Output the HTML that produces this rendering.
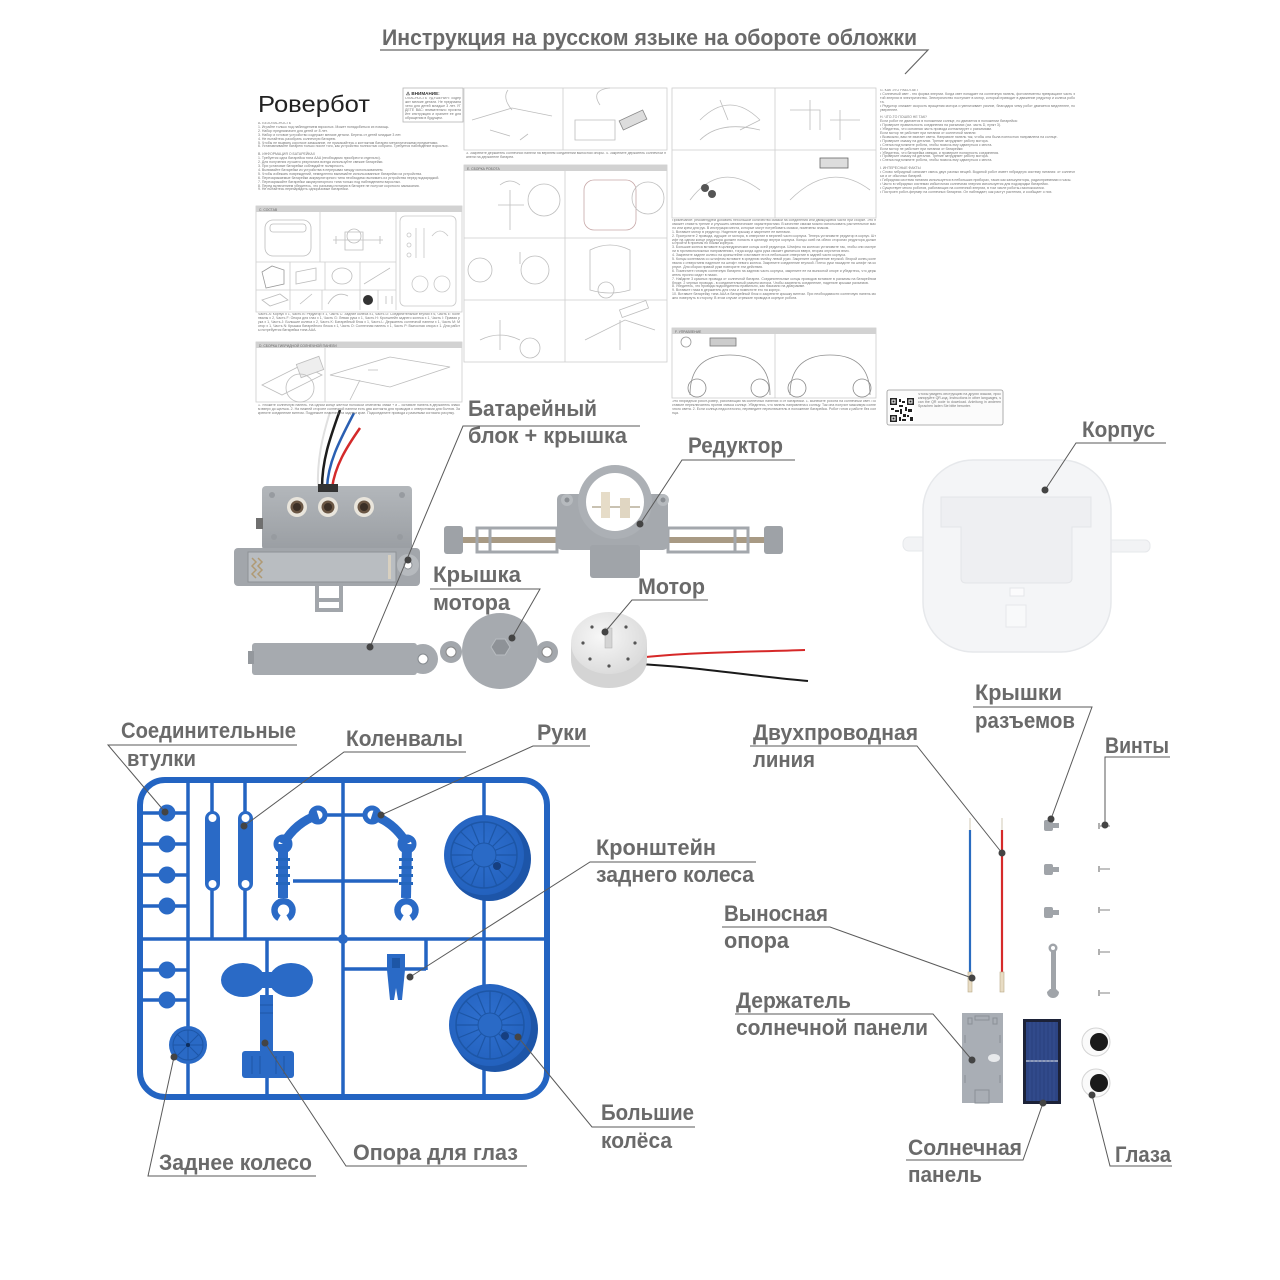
<!DOCTYPE html>
<html><head><meta charset="utf-8">
<style>
html,body{margin:0;padding:0;background:#fff;}
#w{position:relative;width:1280px;height:1280px;overflow:hidden;background:#fff;}
svg{position:absolute;left:0;top:0;}
.t{position:absolute;font-family:"Liberation Sans","Noto Sans CJK SC",sans-serif;font-size:3.5px;line-height:3.9px;color:#777;overflow:hidden;text-align:justify;word-break:break-all;}
.lb{font-family:"Liberation Sans","Noto Sans CJK SC",sans-serif;font-weight:700;font-size:22px;fill:#6a6a6a;}
</style></head><body><div id="w">
<svg width="1280" height="1280" viewBox="0 0 1280 1280" xmlns="http://www.w3.org/2000/svg">
<defs>
<linearGradient id="gbox" x1="0" y1="0" x2="0" y2="1"><stop offset="0" stop-color="#b3b7bb"/><stop offset="1" stop-color="#9a9ea3"/></linearGradient>
<radialGradient id="gmot" cx="0.4" cy="0.4" r="0.7"><stop offset="0" stop-color="#f7f7f7"/><stop offset="1" stop-color="#d8d8d8"/></radialGradient>
<radialGradient id="gwh" cx="0.45" cy="0.45" r="0.6"><stop offset="0" stop-color="#2f70cf"/><stop offset="1" stop-color="#2260bc"/></radialGradient>
</defs>

<text class="lb" x="382" y="45" font-size="23" textLength="535" lengthAdjust="spacingAndGlyphs">Инструкция на русском языке на обороте обложки</text>
<path d="M380 50 H928 L905 74" stroke="#666" stroke-width="1.2" fill="none"/>

<g fill="none" stroke="#cdcdcd" stroke-width="0.8">
<rect x="403" y="88" width="60" height="34" stroke="#b5b5b5"/>
<rect x="256" y="206" width="206" height="106"/>
<line x1="320" y1="212" x2="320" y2="262"/><line x1="396" y1="212" x2="396" y2="310"/>
<line x1="256" y1="262" x2="396" y2="262"/><line x1="256" y1="290" x2="396" y2="290"/>
<line x1="290" y1="262" x2="290" y2="310"/><line x1="325" y1="262" x2="325" y2="290"/><line x1="360" y1="262" x2="360" y2="310"/>
<line x1="322" y1="290" x2="322" y2="310"/><line x1="378" y1="290" x2="378" y2="310"/>
<rect x="256" y="342" width="206" height="60"/><line x1="325" y1="348" x2="325" y2="402"/>
<rect x="464" y="88" width="203" height="62"/><line x1="563" y1="88" x2="563" y2="150"/>
<rect x="464" y="165" width="203" height="197"/><line x1="565" y1="171" x2="565" y2="362"/>
<line x1="464" y1="238" x2="667" y2="238"/><line x1="464" y1="300" x2="667" y2="300"/>
<rect x="672" y="88" width="204" height="130"/><line x1="775" y1="88" x2="775" y2="218"/><line x1="672" y1="150" x2="876" y2="150"/>
<rect x="672" y="328" width="204" height="70"/><line x1="775" y1="334" x2="775" y2="398"/>
</g>
<g fill="#d2d2d2">
<rect x="256" y="206" width="206" height="6"/>
<rect x="256" y="342" width="206" height="6"/>
<rect x="464" y="165" width="203" height="6"/>
<rect x="672" y="328" width="204" height="6"/>
</g>
<g font-family="Liberation Sans, sans-serif" font-size="3.4" fill="#666">
<text x="259" y="211">C. СОСТАВ</text>
<text x="259" y="347">D. СБОРКА ГИБРИДНОЙ СОЛНЕЧНОЙ ПАНЕЛИ</text>
<text x="467" y="170">E. СБОРКА РОБОТА</text>
<text x="675" y="333">F. УПРАВЛЕНИЕ</text>
</g>
<text x="258" y="112" font-family="Liberation Sans, sans-serif" font-size="23" fill="#222" textLength="112" lengthAdjust="spacingAndGlyphs">Ровербот</text>
<text x="406" y="95" font-family="Liberation Sans, sans-serif" font-size="4.6" font-weight="700" fill="#333">⚠ ВНИМАНИЕ:</text>

<g fill="none" stroke="#bdbdbd" stroke-width="0.8">
<rect x="265" y="220" width="46" height="36" rx="8"/><rect x="270" y="224" width="36" height="8" rx="3"/>
<path d="M333 240 h50 M345 232 h18 v18 h-18z M336 236 v8 M380 236 v8"/><circle cx="354" cy="236" r="7"/>
<g stroke="#c8c8c8"><rect x="400" y="216" width="56" height="90" rx="5"/>
<circle cx="420" cy="284" r="8"/><circle cx="442" cy="284" r="8"/><circle cx="409" cy="235" r="2"/><circle cx="409" cy="245" r="2"/><circle cx="409" cy="255" r="2"/><path d="M416 228 v30 M424 228 v30 M432 236 q8 -10 16 0"/></g>
<path d="M262 272 l10 -6 l12 4 v14 l-18 4 z" stroke="#9a9a9a"/><path d="M296 272 l20 -4 v12 l-20 4z"/><ellipse cx="342" cy="276" rx="10" ry="8"/><path d="M364 284 l26 -16"/>
<path d="M262 300 l18 -6 l8 6 l-18 6z"/><path d="M300 304 l12 -10"/><path d="M328 304 q8 -14 20 -8"/><circle cx="368" cy="300" r="5" fill="#333" stroke="none"/><path d="M386 296 v8 M392 296 v8"/>
<path d="M262 385 l40 -20 l20 10 l-40 20z"/><rect x="298" y="360" width="24" height="14" transform="rotate(-20 310 367)" fill="#eee"/><circle cx="300" cy="388" r="14"/>
<path d="M330 375 l60 -18 l60 10 l-60 20z M360 380 l-10 20 M368 370 h10"/>
<path d="M472 120 l40 -12 l40 8 M490 130 l20 6 M512 110 q-10 -12 -4 -20"/><path d="M520 140 l8 -6"/>
<path d="M575 120 h40 v20 h-40z M600 105 q-10 -15 10 -17"/><rect x="620" y="115" width="26" height="10" transform="rotate(-25 633 120)" fill="#ddd" stroke="#888"/>
<path d="M500 185 q10 -8 20 0 M510 190 v40 M498 205 h26"/><circle cx="544" cy="200" r="16"/>
<rect x="584" y="180" width="52" height="50" rx="10" stroke="#c7a8a8"/><circle cx="648" cy="198" r="16"/>
<circle cx="480" cy="270" r="12"/><circle cx="535" cy="270" r="14"/><path d="M520 252 v12"/>
<path d="M590 250 q20 -10 40 0 v40 q-20 6 -40 0z"/><circle cx="606" cy="290" r="8"/>
<path d="M480 340 q20 -10 40 0 M500 320 v30"/><circle cx="530" cy="348" r="10"/>
<path d="M585 340 l40 -20 l30 10 M620 320 v30"/><rect x="620" y="305" width="28" height="8" transform="rotate(-20 634 309)"/>
<path d="M700 120 q30 -30 60 0 M720 100 l8 20 M740 130 l20 -10"/><path d="M700 140 q20 -20 60 -10"/>
<path d="M790 110 h30 v20 M810 100 v30 M830 120 h30 M840 140 v-30"/>
<path d="M690 200 q30 -40 70 -10"/><circle cx="705" cy="188" r="4" fill="#555" stroke="none"/><circle cx="712" cy="194" r="4" fill="#555" stroke="none"/>
<path d="M790 200 q40 -40 80 -10"/><rect x="820" y="158" width="28" height="10" fill="#ddd" stroke="#666"/>
<path d="M690 395 q0 -40 40 -40 q40 0 40 40" stroke="#8f8f8f"/><circle cx="697" cy="388" r="9" stroke="#888"/><circle cx="760" cy="388" r="9" stroke="#888"/><circle cx="686" cy="342" r="5" stroke="#999"/>
<path d="M790 395 q0 -40 40 -40 q40 0 40 40" stroke="#8f8f8f"/><circle cx="797" cy="388" r="9" stroke="#888"/><circle cx="862" cy="388" r="9" stroke="#888"/><rect x="710" y="338" width="26" height="8" fill="#ccc" stroke="#777"/>
</g>

<rect x="887" y="390" width="116" height="35" rx="2" fill="#fbfbfb" stroke="#999" stroke-width="0.8"/>
<g fill="#222">
<rect x="890" y="398" width="24" height="24" fill="#fff"/>
<rect x="890" y="398" width="7" height="7"/><rect x="907" y="398" width="7" height="7"/><rect x="890" y="415" width="7" height="7"/>
<rect x="899" y="399" width="2" height="3"/><rect x="902" y="401" width="3" height="2"/><rect x="899" y="405" width="4" height="2"/><rect x="905" y="407" width="2" height="4"/>
<rect x="891" y="408" width="3" height="2"/><rect x="895" y="410" width="4" height="2"/><rect x="900" y="409" width="2" height="5"/><rect x="908" y="409" width="4" height="3"/>
<rect x="903" y="414" width="3" height="3"/><rect x="899" y="417" width="2" height="4"/><rect x="907" y="415" width="2" height="2"/><rect x="910" y="417" width="3" height="4"/><rect x="902" y="419" width="4" height="2"/>
</g>
<g fill="#fff"><rect x="891.5" y="399.5" width="4" height="4"/><rect x="908.5" y="399.5" width="4" height="4"/><rect x="891.5" y="416.5" width="4" height="4"/></g>
<g fill="#222"><rect x="892.5" y="400.5" width="2" height="2"/><rect x="909.5" y="400.5" width="2" height="2"/><rect x="892.5" y="417.5" width="2" height="2"/></g>

<!-- BATTERY BLOCK -->
<path d="M318 488 C317 460 322 438 330 412" stroke="#e0e0e0" stroke-width="2" fill="none"/>
<path d="M322 488 C322 460 330 438 340 410" stroke="#1d1d1d" stroke-width="2.5" fill="none"/>
<path d="M327 488 C328 462 340 440 354 413" stroke="#2a5fb2" stroke-width="2.5" fill="none"/>
<path d="M332 488 C335 466 346 448 360 428" stroke="#d42a2a" stroke-width="2.5" fill="none"/>
<rect x="262" y="486" width="150" height="64" rx="4" fill="url(#gbox)"/>
<rect x="318" y="484" width="20" height="8" fill="#333"/>
<g fill="#979ba0"><circle cx="272" cy="495" r="3"/><circle cx="402" cy="495" r="3"/><circle cx="274" cy="537" r="3"/><circle cx="400" cy="537" r="3"/></g>
<g><circle cx="297" cy="507" r="10" fill="#e9e5dc"/><circle cx="297" cy="507" r="6.5" fill="#6a5644"/><circle cx="297" cy="507" r="4" fill="#3b2f26"/>
<circle cx="328" cy="507" r="10" fill="#e9e5dc"/><circle cx="328" cy="507" r="6.5" fill="#6a5644"/><circle cx="328" cy="507" r="4" fill="#3b2f26"/>
<circle cx="364" cy="507" r="10" fill="#e9e5dc"/><circle cx="364" cy="507" r="6.5" fill="#6a5644"/><circle cx="364" cy="507" r="4" fill="#3b2f26"/></g>
<rect x="256" y="518" width="7" height="11" fill="#6f6f6f"/>
<rect x="234" y="548" width="186" height="38" rx="4" fill="#a2a6ab"/>
<rect x="248" y="552" width="148" height="30" fill="#b9bdc1" stroke="#8d9196" stroke-width="1"/>
<path d="M252 558 l4 4 l-4 4 l4 4 l-4 4 l4 4 M258 558 l4 4 l-4 4 l4 4 l-4 4 l4 4" stroke="#b09a74" stroke-width="1.5" fill="none"/>
<rect x="388" y="555" width="3" height="24" fill="#d8d0c0"/>
<circle cx="408" cy="565" r="11" fill="#b6babe"/><circle cx="408" cy="565" r="4" fill="#fff" stroke="#8a8e93"/>
<path d="M317 586 v24 h24 v-24 M317 600 h24" stroke="#a2a6ab" stroke-width="4" fill="none"/>

<rect x="252" y="643" width="165" height="32" rx="3" fill="#a6aaaf"/>
<circle cx="423" cy="659" r="15" fill="#a6aaaf"/>
<circle cx="423" cy="659" r="5" fill="#fff" stroke="#858a8f"/>
<rect x="248" y="651" width="6" height="13" fill="#94989d"/>

<!-- REDUCER -->
<rect x="455" y="537" width="320" height="6" fill="#a89a84"/>
<rect x="477" y="528" width="80" height="24" fill="none" stroke="#a3a7ac" stroke-width="3"/>
<rect x="668" y="528" width="80" height="24" fill="none" stroke="#a3a7ac" stroke-width="3"/>
<line x1="490" y1="528" x2="490" y2="552" stroke="#a3a7ac" stroke-width="3"/><line x1="735" y1="528" x2="735" y2="552" stroke="#a3a7ac" stroke-width="3"/>
<rect x="444" y="526" width="19" height="28" rx="3" fill="#9ea2a7"/>
<rect x="764" y="526" width="19" height="28" rx="3" fill="#9ea2a7"/>
<rect x="557" y="494" width="111" height="56" rx="5" fill="#a5a9ae"/>
<rect x="590" y="545" width="50" height="33" rx="3" fill="#a0a4a9"/>
<circle cx="567" cy="500" r="6" fill="#b6babe"/><circle cx="663" cy="500" r="6" fill="#b6babe"/>
<circle cx="567" cy="500" r="2.5" fill="#8a8e93"/><circle cx="663" cy="500" r="2.5" fill="#8a8e93"/>
<circle cx="615" cy="502" r="37" fill="#acb0b5"/>
<circle cx="615" cy="502" r="29" fill="#fff"/>
<line x1="592" y1="507" x2="640" y2="507" stroke="#c9c2b2" stroke-width="2"/>
<rect x="601" y="492" width="9" height="26" fill="#e6dcc8"/>
<rect x="620" y="498" width="10" height="20" fill="#e0d6c2"/>

<!-- motor cover -->
<circle cx="451" cy="652" r="11" fill="#a3a7ac"/><circle cx="547" cy="652" r="11" fill="#a3a7ac"/>
<circle cx="451" cy="652" r="5" fill="#fff" stroke="#888"/><circle cx="547" cy="652" r="5" fill="#fff" stroke="#888"/>
<circle cx="500" cy="651" r="38" fill="#a6aaaf"/>
<polygon points="510,647 505,655 496,655 491,647 496,639 505,639" fill="#8e9297" stroke="#b8bcc0"/>

<!-- motor -->
<path d="M636 658 C690 652 750 652 805 650" stroke="#d62828" stroke-width="2" fill="none"/>
<path d="M636 664 C690 666 750 676 808 681" stroke="#1a1a1a" stroke-width="2" fill="none"/>
<path d="M571 643 V660 A38 28 0 0 0 647 660 V643 Z" fill="#d4d4d4"/>
<ellipse cx="609" cy="643" rx="38" ry="31" fill="url(#gmot)"/>
<rect x="605" y="628" width="7" height="20" fill="#d4d4d4" stroke="#aaa" stroke-width="0.5"/>
<g fill="#555"><circle cx="592" cy="627" r="1.6"/><circle cx="626" cy="627" r="1.6"/><circle cx="583" cy="643" r="1.6"/><circle cx="635" cy="643" r="1.6"/><circle cx="590" cy="659" r="1.6"/><circle cx="628" cy="659" r="1.6"/><circle cx="609" cy="666" r="1.6"/></g>

<!-- KORPUS -->
<rect x="903" y="537" width="24" height="14" rx="6" fill="#f2f3f5" stroke="#e6e8eb"/>
<rect x="1106" y="540" width="44" height="12" rx="5" fill="#f2f3f5" stroke="#e6e8eb"/>
<rect x="923" y="460" width="188" height="192" rx="50" fill="#f4f5f7" stroke="#e6e8eb" stroke-width="1.5"/>
<path d="M941 497 H1091 V527 H1072 V578 Q1072 583 1066 583 H966 Q961 583 961 578 V527 H941 Z" fill="#eeeff2" stroke="#e3e5e8"/>
<rect x="1010" y="588" width="14" height="8" fill="#fbfbfc" stroke="#e4e6ea"/>
<rect x="1006" y="605" width="20" height="22" fill="#f8f9fa" stroke="#e6e8eb"/>

<!-- SPRUE -->
<g stroke="#2364c2" fill="none">
<rect x="140" y="780" width="407" height="317" rx="25" stroke-width="6"/>
<g stroke-width="3.5">
<line x1="188" y1="780" x2="188" y2="1097"/>
<line x1="343" y1="780" x2="343" y2="1097"/>
<line x1="484" y1="780" x2="484" y2="1097"/>
<line x1="140" y1="939" x2="547" y2="939"/>
<line x1="212" y1="780" x2="212" y2="939"/>
<line x1="245" y1="780" x2="245" y2="939"/>
<line x1="267" y1="939" x2="267" y2="1097"/>
<line x1="140" y1="813" x2="188" y2="813"/><line x1="140" y1="844" x2="188" y2="844"/>
<line x1="140" y1="875" x2="188" y2="875"/><line x1="140" y1="906" x2="188" y2="906"/>
<line x1="140" y1="970" x2="188" y2="970"/><line x1="140" y1="1000" x2="188" y2="1000"/>
<line x1="293" y1="881" x2="398" y2="881"/>
<line x1="326" y1="815" x2="364" y2="815"/>
<line x1="343" y1="969" x2="426" y2="969"/><line x1="426" y1="939" x2="426" y2="970"/>
</g>
</g>
<g fill="#2a6ac6">
<circle cx="167" cy="813" r="8.5"/><circle cx="167" cy="844" r="8.5"/><circle cx="167" cy="875" r="8.5"/><circle cx="167" cy="906" r="8.5"/>
<circle cx="167" cy="970" r="8.5"/><circle cx="167" cy="1000" r="8.5"/>
<circle cx="343" cy="939" r="5"/>
<rect x="205" y="811" width="15" height="80" rx="7.5"/>
<rect x="238" y="811" width="15" height="80" rx="7.5"/>
</g>
<g fill="#fff"><circle cx="212.5" cy="818" r="4"/><circle cx="212.5" cy="884" r="4"/><circle cx="245.5" cy="818" r="4"/><circle cx="245.5" cy="884" r="4"/></g>
<g stroke="#2a6ac6" fill="none">
<path d="M318 815 Q296 822 283 844" stroke-width="9"/>
<path d="M372 815 Q394 822 407 844" stroke-width="9"/>
<line x1="283" y1="844" x2="283" y2="898" stroke-width="10"/>
<line x1="407" y1="844" x2="406" y2="898" stroke-width="10"/>
<circle cx="318" cy="815" r="7" stroke-width="5"/><circle cx="372" cy="815" r="7" stroke-width="5"/>
<circle cx="283" cy="844" r="7" stroke-width="5"/><circle cx="407" cy="844" r="7" stroke-width="5"/>
<path d="M279 918 A9 9 0 1 1 288 918" stroke-width="6.5"/>
<path d="M402 918 A9 9 0 1 1 411 918" stroke-width="6.5"/>
</g>
<g fill="#2466bd"><rect x="276" y="858" width="14" height="3"/><rect x="276" y="866" width="14" height="3"/><rect x="276" y="874" width="14" height="3"/><rect x="276" y="882" width="14" height="3"/>
<rect x="399" y="858" width="14" height="3"/><rect x="399" y="866" width="14" height="3"/><rect x="399" y="874" width="14" height="3"/><rect x="399" y="882" width="14" height="3"/></g>
<circle cx="489" cy="859" r="42" fill="#1d55a8"/>
<circle cx="484" cy="855" r="40" fill="url(#gwh)"/>
<circle cx="484" cy="855" r="33" fill="none" stroke="#1d56a6" stroke-width="1.5"/>
<g stroke="#1d56a6" stroke-width="1.2"><path d="M484 822 V888 M451 855 H517 M461 832 L507 878 M507 832 L461 878 M471 824 L497 886 M497 824 L471 886 M453 842 L515 868 M515 842 L453 868"/></g>
<circle cx="484" cy="855" r="12" fill="#2a6ac6" stroke="#1d56a6"/>
<circle cx="497" cy="866" r="4" fill="#163f80"/>
<circle cx="495" cy="1029" r="43" fill="#1d55a8"/>
<circle cx="490" cy="1025" r="41" fill="url(#gwh)"/>
<circle cx="490" cy="1025" r="34" fill="none" stroke="#1d56a6" stroke-width="1.5"/>
<g stroke="#1d56a6" stroke-width="1.2"><path d="M490 991 V1059 M456 1025 H524 M466 1001 L514 1049 M514 1001 L466 1049 M477 993 L503 1057 M503 993 L477 1057 M458 1012 L522 1038 M522 1012 L458 1038"/></g>
<circle cx="490" cy="1025" r="12" fill="#2a6ac6" stroke="#1d56a6"/>
<circle cx="505" cy="1036" r="4" fill="#163f80"/>
<circle cx="188" cy="1045" r="19" fill="#2a6ac6"/>
<g stroke="#1d56a6" stroke-width="1"><circle cx="188" cy="1045" r="15" fill="none"/><path d="M188 1030 V1060 M173 1045 H203 M177 1034 L199 1056 M199 1034 L177 1056"/></g>
<circle cx="188" cy="1045" r="2" fill="#0d2d5c"/>
<g fill="#2a6ac6">
<ellipse cx="243" cy="980" rx="22" ry="17"/><ellipse cx="291" cy="980" rx="22" ry="17"/>
<rect x="243" y="972" width="48" height="16"/>
<rect x="260" y="995" width="13" height="58"/>
<rect x="242" y="1051" width="52" height="27" rx="3"/>
</g>
<g stroke="#1d56a6" stroke-width="1"><path d="M252 1056 v18 M260 1056 v18 M276 1056 v18 M284 1056 v18 M260 1005 h13 M260 1013 h13"/></g>
<path d="M387 954 h18 v16 l-3 30 h-4 l-2 -12 l-2 12 h-4 l-3 -30 z" fill="#2a6ac6"/>
<rect x="392" y="958" width="8" height="10" fill="#1d56a6"/>

<!-- RIGHT PARTS -->
<line x1="970" y1="830" x2="970" y2="972" stroke="#2a6cc0" stroke-width="2.2"/>
<line x1="970" y1="818" x2="970" y2="830" stroke="#d8d2c0" stroke-width="1.2"/>
<rect x="968" y="972" width="4" height="20" fill="#e8dcc4" stroke="#b8aa88" stroke-width="0.6"/>
<line x1="1002" y1="830" x2="1002" y2="972" stroke="#d62a2a" stroke-width="2.2"/>
<line x1="1002" y1="818" x2="1002" y2="830" stroke="#d8d2c0" stroke-width="1.2"/>
<rect x="1000" y="972" width="4" height="20" fill="#e8dcc4" stroke="#b8aa88" stroke-width="0.6"/>
<g fill="#a0a4a9"><rect x="1044" y="820" width="9" height="11" rx="2"/><rect x="1052" y="823" width="7" height="5"/>
<rect x="1044" y="864" width="9" height="11" rx="2"/><rect x="1052" y="867" width="7" height="5"/>
<rect x="1044" y="907" width="9" height="11" rx="2"/><rect x="1052" y="910" width="7" height="5"/>
<rect x="1051" y="948" width="5" height="44"/><circle cx="1053" cy="948" r="4.5"/></g>
<circle cx="1053" cy="948" r="2" fill="#fff"/>
<path d="M1047 992 a6 6 0 0 0 12 0 l-3 -3 h-6z" fill="#a0a4a9"/>
<g stroke="#9a9a9a" stroke-width="1.2"><line x1="1099" y1="826" x2="1110" y2="826"/><line x1="1099" y1="869" x2="1110" y2="869"/><line x1="1099" y1="910" x2="1110" y2="910"/><line x1="1099" y1="952" x2="1110" y2="952"/><line x1="1099" y1="993" x2="1110" y2="993"/></g>
<g stroke="#b0b0b0" stroke-width="2"><line x1="1099" y1="823" x2="1099" y2="829"/><line x1="1099" y1="866" x2="1099" y2="872"/><line x1="1099" y1="907" x2="1099" y2="913"/><line x1="1099" y1="949" x2="1099" y2="955"/><line x1="1099" y1="990" x2="1099" y2="996"/></g>
<rect x="962" y="1013" width="41" height="90" fill="#a9aeb5"/>
<g fill="none" stroke="#8a9097" stroke-width="1"><rect x="968" y="1018" width="4" height="6"/><rect x="993" y="1018" width="4" height="6"/><path d="M975 1016 h14 v4 h-14z"/><path d="M965 1035 v8 M1000 1035 v8 M965 1075 v8 M1000 1075 v8"/><rect x="975" y="1090" width="14" height="13"/></g>
<ellipse cx="994" cy="1058" rx="6" ry="4" fill="#e8eaec"/>
<rect x="1023" y="1019" width="38" height="85" fill="#1c2238"/>
<rect x="1026" y="1022" width="32" height="79" fill="#2d4584"/>
<line x1="1026" y1="1061" x2="1058" y2="1061" stroke="#c9d0dc" stroke-width="1.2"/>
<g stroke="#3e58a0" stroke-width="0.5"><path d="M1030 1022 V1101 M1034 1022 V1101 M1038 1022 V1101 M1042 1022 V1101 M1046 1022 V1101 M1050 1022 V1101 M1054 1022 V1101"/></g>
<circle cx="1096" cy="1042" r="14" fill="#fafafa" stroke="#d4d4d4"/><circle cx="1099" cy="1042" r="9" fill="#1a1a1a"/>
<circle cx="1096" cy="1083" r="14" fill="#fafafa" stroke="#d4d4d4"/><circle cx="1099" cy="1083" r="9" fill="#1a1a1a"/>

<!-- LABELS -->
<g class="lb">
<text x="468" y="416" textLength="129" lengthAdjust="spacingAndGlyphs">Батарейный</text>
<text x="468" y="443" textLength="159" lengthAdjust="spacingAndGlyphs">блок + крышка</text>
<text x="688" y="453" textLength="95" lengthAdjust="spacingAndGlyphs">Редуктор</text>
<text x="433" y="582" textLength="88" lengthAdjust="spacingAndGlyphs">Крышка</text>
<text x="433" y="610" textLength="77" lengthAdjust="spacingAndGlyphs">мотора</text>
<text x="638" y="594" textLength="67" lengthAdjust="spacingAndGlyphs">Мотор</text>
<text x="1082" y="437" textLength="73" lengthAdjust="spacingAndGlyphs">Корпус</text>
<text x="121" y="738" textLength="175" lengthAdjust="spacingAndGlyphs">Соединительные</text>
<text x="127" y="766" textLength="69" lengthAdjust="spacingAndGlyphs">втулки</text>
<text x="346" y="746" textLength="117" lengthAdjust="spacingAndGlyphs">Коленвалы</text>
<text x="537" y="740" textLength="50" lengthAdjust="spacingAndGlyphs">Руки</text>
<text x="596" y="855" textLength="120" lengthAdjust="spacingAndGlyphs">Кронштейн</text>
<text x="596" y="882" textLength="158" lengthAdjust="spacingAndGlyphs">заднего колеса</text>
<text x="601" y="1120" textLength="93" lengthAdjust="spacingAndGlyphs">Большие</text>
<text x="601" y="1148" textLength="71" lengthAdjust="spacingAndGlyphs">колёса</text>
<text x="353" y="1160" textLength="165" lengthAdjust="spacingAndGlyphs">Опора для глаз</text>
<text x="159" y="1170" textLength="153" lengthAdjust="spacingAndGlyphs">Заднее колесо</text>
<text x="753" y="740" textLength="165" lengthAdjust="spacingAndGlyphs">Двухпроводная</text>
<text x="753" y="767" textLength="62" lengthAdjust="spacingAndGlyphs">линия</text>
<text x="975" y="700" textLength="87" lengthAdjust="spacingAndGlyphs">Крышки</text>
<text x="975" y="728" textLength="100" lengthAdjust="spacingAndGlyphs">разъемов</text>
<text x="1105" y="753" textLength="64" lengthAdjust="spacingAndGlyphs">Винты</text>
<text x="724" y="921" textLength="104" lengthAdjust="spacingAndGlyphs">Выносная</text>
<text x="724" y="948" textLength="65" lengthAdjust="spacingAndGlyphs">опора</text>
<text x="736" y="1008" textLength="115" lengthAdjust="spacingAndGlyphs">Держатель</text>
<text x="736" y="1035" textLength="192" lengthAdjust="spacingAndGlyphs">солнечной панели</text>
<text x="908" y="1155" textLength="114" lengthAdjust="spacingAndGlyphs">Солнечная</text>
<text x="908" y="1182" textLength="74" lengthAdjust="spacingAndGlyphs">панель</text>
<text x="1115" y="1162" textLength="56" lengthAdjust="spacingAndGlyphs">Глаза</text>
</g>

<g stroke="#5a5a5a" stroke-width="1" fill="none">
<path d="M640 426 H463 L370 647"/>
<path d="M795 460 H682 L640 524"/>
<path d="M430 589 H540 L512 638"/>
<path d="M708 600 H632 L605 632"/>
<path d="M1166 443 H1076 L1045 490"/>
<path d="M297 745 H108 L165 812"/>
<path d="M466 752 H344 L244 826"/>
<path d="M590 746 H533 L381 815"/>
<path d="M756 862 H590 L410 977"/>
<path d="M695 1127 H592 L518 1037"/>
<path d="M527 1166 H346 L265 1043"/>
<path d="M316 1176 H148 L174 1057"/>
<path d="M750 746 H917 L1002 853"/>
<path d="M973 707 H1092 L1051 819"/>
<path d="M1170 757 H1105 V825"/>
<path d="M722 927 H830 L972 978"/>
<path d="M735 1014 H933 L972 1060"/>
<path d="M906 1160 H1023 L1043 1103"/>
<path d="M1172 1166 H1110 L1092 1095"/>
</g>
<g fill="#444">
<circle cx="408" cy="560" r="3.5"/><circle cx="370" cy="647" r="3.5"/>
<circle cx="640" cy="524" r="3.5"/><circle cx="512" cy="638" r="3.5"/><circle cx="605" cy="632" r="3.5"/>
<circle cx="1045" cy="490" r="3.5"/>
<circle cx="165" cy="812" r="3.5"/><circle cx="244" cy="826" r="3.5"/><circle cx="381" cy="815" r="3.5"/>
<circle cx="410" cy="977" r="3.5"/><circle cx="518" cy="1037" r="3.5"/><circle cx="265" cy="1043" r="3.5"/><circle cx="174" cy="1057" r="3.5"/>
<circle cx="1002" cy="853" r="3.5"/><circle cx="1051" cy="819" r="3.5"/><circle cx="1105" cy="825" r="3.5"/>
<circle cx="972" cy="978" r="3.5"/><circle cx="972" cy="1060" r="3.5"/><circle cx="1043" cy="1103" r="3.5"/><circle cx="1092" cy="1095" r="3.5"/>
</g>
</svg>

<div class="t" style="left:405px;top:97px;width:56px;height:23px;">ОПАСНОСТЬ УДУШЕНИЯ: содержит мелкие детали. Не предназначено для детей младше 3 лет. УГДЕТЕ ВАС: внимательно прочитайте инструкцию и храните ее для обращения в будущем.</div>
<div class="t" style="left:258px;top:122px;width:202px;height:84px;">A. БЕЗОПАСНОСТЬ<br>1. Играйте только под наблюдением взрослых. Может понадобиться их помощь.<br>2. Набор предназначен для детей от 8 лет.<br>3. Набор и готовое устройство содержат мелкие детали. Беречь от детей младше 3 лет.<br>4. Не пытайтесь разобрать солнечную батарею.<br>5. Чтобы не вызвать короткое замыкание, не прикасайтесь к контактам батареи металлическими предметами.<br>6. Устанавливайте батарею только после того, как устройство полностью собрано. Требуется наблюдение взрослых.<br><br>B. ИНФОРМАЦИЯ О БАТАРЕЙКАХ<br>1. Требуется одна батарейка типа AAA (необходимо приобрести отдельно).<br>2. Для получения лучшего результата всегда используйте свежие батарейки.<br>3. При установке батарейки соблюдайте полярность.<br>4. Вынимайте батарейки из устройства в перерывах между использованием.<br>5. Чтобы избежать повреждений, немедленно вынимайте использованные батарейки из устройства.<br>6. Перезаряжаемые батарейки аккумуляторного типа необходимо вынимать из устройства перед подзарядкой.<br>7. Перезаряжайте батарейки аккумуляторного типа только под наблюдением взрослых.<br>8. Перед включением убедитесь, что разъемы питания в батарее не получат короткого замыкания.<br>9. Не пытайтесь перезарядить одноразовые батарейки.</div>
<div class="t" style="left:258px;top:313px;width:202px;height:28px;">Часть A: Корпус x 1, Часть B: Редуктор x 1, Часть C: Задние колеса x1, Часть D: Соединительные втулки x 6, Часть E: Коленвалы x 2, Часть F: Опора для глаз x 1, Часть G: Левая рука x 1, Часть H: Кронштейн заднего колеса x 1, Часть I: Правая рука x 1, Часть J: Большие колеса x 2, Часть K: Батарейный блок x 1, Часть L: Держатель солнечной панели x 1, Часть M: Мотор x 1, Часть N: Крышка батарейного блока x 1, Часть O: Солнечная панель x 1, Часть P: Выносная опора x 1. Для работы потребуется батарейка типа AAA.</div>
<div class="t" style="left:258px;top:404px;width:202px;height:25px;">1. Уложите солнечную панель. На одном конце желтой полоской отмечены знаки + и -. Вставьте панель в держатель знаком вверх до щелчка. 2. На нижней стороне солнечной панели есть два контакта для проводов с отверстиями для болтов. Закрепите соединение винтом. Подрежьте пластину на заднем крае. Подсоедините провода к разъемам согласно рисунку.</div>
<div class="t" style="left:466px;top:152px;width:200px;height:10px;">3. Закрепите держатель солнечной панели на верхнем соединении выносной опоры. 4. Закрепите держатель солнечной панели на держателе батареи.</div>
<div class="t" style="left:672px;top:219px;width:204px;height:108px;">Примечание: рекомендуем добавить небольшое количество смазки на соединения или движущиеся части при сборке. Это поможет снизить трение и улучшить механические характеристики. В качестве смазки можно использовать растительное масло или крем для рук. В инструкции места, которые могут потребовать смазки, помечены знаком.<br>1. Вставьте мотор в редуктор. Наденьте крышку и закрепите ее винтами.<br>2. Пропустите 2 провода, идущие от мотора, в отверстие в верхней части корпуса. Теперь установите редуктор в корпус. Штифт на одном конце редуктора должен попасть в цилиндр внутри корпуса. Концы осей на обеих сторонах редуктора должны пройти в проемы по бокам корпуса.<br>3. Большие колеса вставьте в цилиндрические концы осей редуктора. Штифты на колесах установите так, чтобы они смотрели в противоположных направлениях, тогда когда одна рука сможет двигаться вверх, вторая опустится вниз.<br>4. Закрепите заднее колесо на кронштейне и вставьте его в небольшое отверстие в задней части корпуса.<br>5. Концы коленвала со штифтом вставьте в среднюю ячейку левой руки. Закрепите соединение втулкой. Второй конец коленвала с отверстием наденьте на штифт левого колеса. Закрепите соединение втулкой. Плечо руки насадите на штифт на корпусе. Для сборки правой руки повторите эти действия.<br>6. Поместите готовую солнечную батарею на заднюю часть корпуса, закрепите ее на выносной опоре и убедитесь, что держатель прочно сидит в пазах.<br>7. Найдите 3 красных провода от солнечной батареи. Соединительные концы проводов вставьте в разъемы на батарейном блоке. 2 черных провода - в соединительный разъем мотора. Чтобы закрепить соединение, наденьте крышки разъемов.<br>8. Убедитесь, что провода подсоединены правильно, как показано на диаграмме.<br>9. Вставьте глаза в держатель для глаз и поместите его на корпус.<br>10. Вставьте батарейку типа AAA в батарейный блок и закрепите крышку винтом. При необходимости солнечную панель можно повернуть в сторону. В этом случае отрежьте провода в корпусе робота.</div>
<div class="t" style="left:672px;top:400px;width:204px;height:21px;">Это гибридный робот-ровер, работающий на солнечных панелях и от батарейки. 1. Вынесите робота на солнечный свет. Поставьте переключатель против значка солнце. Убедитесь, что панель направлена к солнцу. Так она получит максимум солнечного света. 2. Если солнца недостаточно, переведите переключатель в положение батарейка. Робот готов к работе без солнца.</div>
<div class="t" style="left:880px;top:89px;width:195px;height:131px;">G. КАК ЭТО РАБОТАЕТ<br>• Солнечный свет - это форма энергии. Когда свет попадает на солнечную панель, фотоэлементы превращают часть этой энергии в электричество. Электричество поступает в мотор, который приводит в движение редуктор и колеса робота.<br>• Редуктор снижает скорость вращения мотора и увеличивает усилие, благодаря чему робот двигается медленнее, но увереннее.<br><br>H. ЧТО-ТО ПОШЛО НЕ ТАК?<br>Если робот не двигается в положении солнце, но двигается в положении батарейка:<br>• Проверьте правильность соединения на разъемах (см. часть D, пункт 3).<br>• Убедитесь, что основная часть провода контактирует с разъемами.<br>Если мотор не работает при питании от солнечной панели:<br>• Возможно, вам не хватает света. Направьте панель так, чтобы она была полностью направлена на солнце.<br>• Проверьте смазку на деталях. Трение затрудняет работу мотора.<br>• Слегка подтолкните робота, чтобы помочь ему сдвинуться с места.<br>Если мотор не работает при питании от батарейки:<br>• Убедитесь, что батарейка свежая, и проверьте полярность соединения.<br>• Проверьте смазку на деталях. Трение затрудняет работу мотора.<br>• Слегка подтолкните робота, чтобы помочь ему сдвинуться с места.<br><br>I. ИНТЕРЕСНЫЕ ФАКТЫ<br>• Слово гибридный означает смесь двух разных вещей. Водяной робот имеет гибридную систему питания: от солнечных и от обычных батарей.<br>• Гибридная система питания используется в небольших приборах, таких как калькуляторы, радиоприемники и часы.<br>• Часто в гибридных системах избыточная солнечная энергия используется для подзарядки батарейки.<br>• Существует много роботов, работающих на солнечной энергии, в том числе роботы-газонокосилки.<br>• Построен робот-фермер на солнечных батареях. Он наблюдает, как растут растения, и сообщает о них.</div>
<div class="t" style="left:918px;top:393px;width:83px;height:30px;">Чтобы увидеть инструкцию на других языках, просканируйте QR-код. Instructions in other languages, scan the QR code to download. Anleitung in anderen Sprachen laden Sie bitte herunter.</div>
</div></body></html>
